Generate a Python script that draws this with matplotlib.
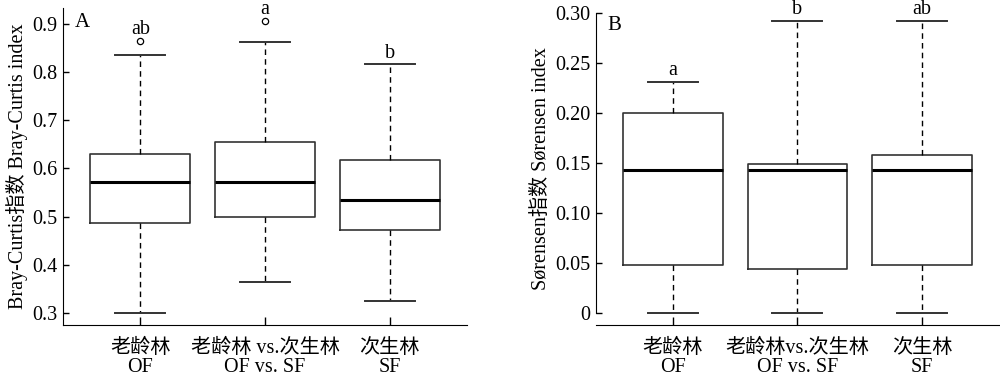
import matplotlib
matplotlib.use("Agg")
import matplotlib.pyplot as plt

plt.rcParams['font.family'] = ['Liberation Serif', 'Noto Sans CJK SC']

# Категории
labels_a = ["老龄林\nOF", "老龄林 vs.次生林\nOF vs. SF", "次生林\nSF"]
labels_b = ["老龄林\nOF", "老龄林vs.次生林\nOF vs. SF", "次生林\nSF"]

# Bray-Curtis: нижний ус, Q1, медиана, Q3, верхний ус, выбросы
bc_low = [0.300, 0.364, 0.324]
bc_q1 = [0.487, 0.500, 0.472]
bc_med = [0.573, 0.573, 0.535]
bc_q3 = [0.630, 0.654, 0.617]
bc_high = [0.836, 0.862, 0.816]
bc_fliers = [[0.864], [0.907], []]
bc_letters = ["ab", "a", "b"]

# Sørensen
so_low = [0.0, 0.0, 0.0]
so_q1 = [0.048, 0.044, 0.048]
so_med = [0.1433, 0.1433, 0.1433]
so_q3 = [0.200, 0.149, 0.1587]
so_high = [0.2317, 0.2927, 0.2927]
so_fliers = [[], [], []]
so_letters = ["a", "b", "ab"]

fig = plt.figure(figsize=(10, 3.75), dpi=100)
ax1 = fig.add_axes([0.063, 0.1333, 0.404, 0.8445])
ax2 = fig.add_axes([0.5957, 0.1333, 0.4033, 0.8356])

box_col = "#333333"
fs = 14.5


def draw(ax, low, q1, med, q3, high, fliers, letters, labels):
    stats = []
    for i in range(len(low)):
        stats.append(dict(whislo=low[i], q1=q1[i], med=med[i], q3=q3[i],
                          whishi=high[i], fliers=fliers[i]))
    ax.bxp(stats, positions=[1, 2, 3], widths=0.8, showfliers=True,
           boxprops=dict(color=box_col, linewidth=1.2),
           whiskerprops=dict(color="black", linewidth=1.0, linestyle=(0, (4, 3))),
           capprops=dict(color=box_col, linewidth=1.4),
           capwidths=0.4,
           medianprops=dict(color="black", linewidth=2.2),
           flierprops=dict(marker="o", markersize=4.5, markerfacecolor="white",
                           markeredgecolor="black", markeredgewidth=0.9))
    for i in range(len(low)):
        top = max([high[i]] + list(fliers[i]))
        ax.annotate(letters[i], (i + 1, top), xytext=(0, 5), textcoords="offset points",
                    ha="center", va="baseline", fontsize=fs, annotation_clip=False)
    ax.set_xlim(0.38, 3.62)
    ax.set_xticks([1, 2, 3])
    ax.set_xticklabels(labels, fontsize=fs, linespacing=0.98)
    ax.spines["top"].set_visible(False)
    ax.spines["right"].set_visible(False)
    ax.tick_params(axis="x", direction="in", length=6, width=1.0, pad=10)
    ax.tick_params(axis="y", direction="in", length=4, width=1.0, pad=4, labelsize=fs)


draw(ax1, bc_low, bc_q1, bc_med, bc_q3, bc_high, bc_fliers, bc_letters, labels_a)
ax1.set_ylim(0.275, 0.9326)
ax1.set_yticks([0.3, 0.4, 0.5, 0.6, 0.7, 0.8, 0.9])
ax1.set_yticklabels(["0.3", "0.4", "0.5", "0.6", "0.7", "0.8", "0.9"])
ax1.set_ylabel("Bray-Curtis指数 Bray-Curtis index", fontsize=fs, labelpad=3)
ax1.text(0.03, 0.985, "A", transform=ax1.transAxes, fontsize=15, va="top", ha="left")

draw(ax2, so_low, so_q1, so_med, so_q3, so_high, so_fliers, so_letters, labels_b)
ax2.set_ylim(-0.0117, 0.3016)
ax2.set_yticks([0, 0.05, 0.10, 0.15, 0.20, 0.25, 0.30])
ax2.set_yticklabels(["0", "0.05", "0.10", "0.15", "0.20", "0.25", "0.30"])
ax2.spines["left"].set_bounds(0, 0.30)
ax2.set_ylabel("Sørensen指数 Sørensen index", fontsize=fs, labelpad=3)
ax2.text(0.03, 0.985, "B", transform=ax2.transAxes, fontsize=15, va="top", ha="left")

plt.savefig("out.png", dpi=100)
